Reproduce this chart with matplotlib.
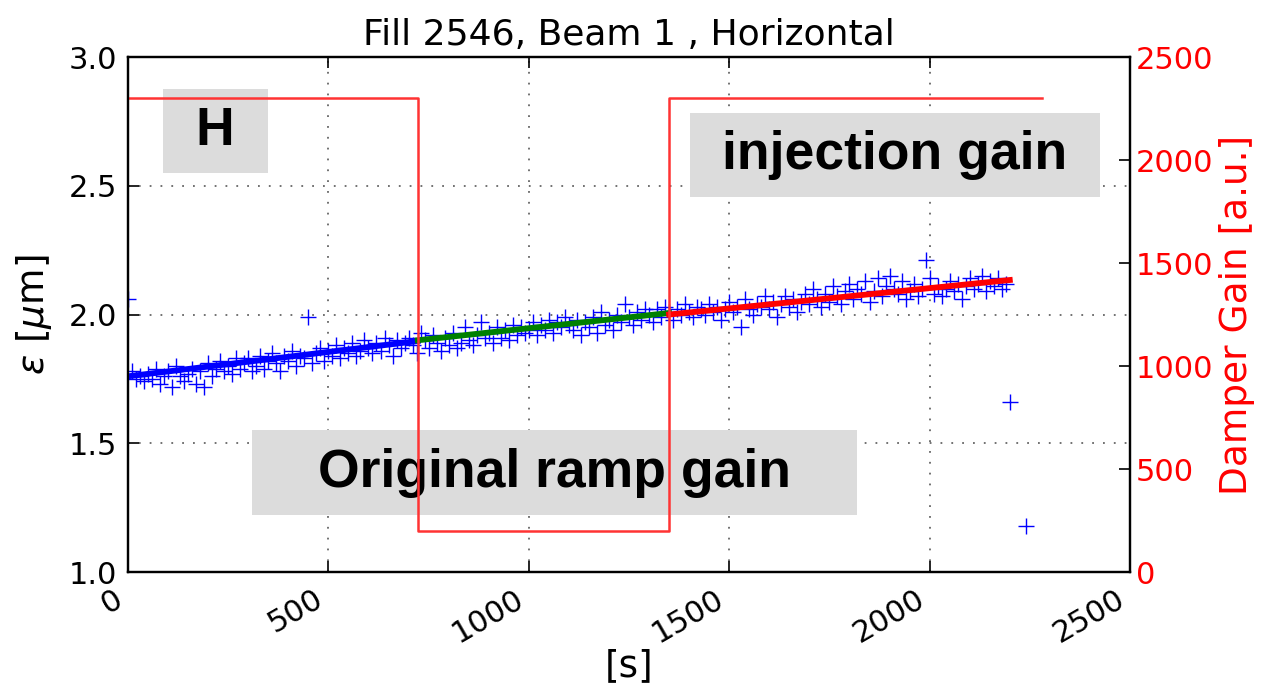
import numpy as np
import matplotlib.pyplot as plt
from matplotlib.patches import Rectangle

# emittance samples, one every 10 s
t = [10 * i for i in range(220)] + [2200, 2240]
emit = [
    2.06, 1.78, 1.75, 1.76, 1.74, 1.77, 1.75, 1.79, 1.73, 1.76,
    1.78, 1.72, 1.80, 1.76, 1.74, 1.77, 1.79, 1.73, 1.78, 1.72,
    1.81, 1.76, 1.79, 1.82, 1.78, 1.80, 1.77, 1.83, 1.79, 1.81,
    1.83, 1.78, 1.80, 1.84, 1.79, 1.82, 1.85, 1.81, 1.78, 1.84,
    1.82, 1.86, 1.80, 1.84, 1.83, 1.99, 1.81, 1.85, 1.87, 1.82,
    1.86, 1.84, 1.88, 1.83, 1.87, 1.85, 1.89, 1.84, 1.86, 1.90,
    1.87, 1.85, 1.89, 1.86, 1.91, 1.88, 1.84, 1.90, 1.87, 1.89,
    1.91, 1.88, 1.85, 1.93, 1.90, 1.87, 1.92, 1.89, 1.86, 1.91,
    1.88, 1.93, 1.87, 1.89, 1.95, 1.90, 1.88, 1.92, 1.97, 1.91,
    1.93, 1.89, 1.95, 1.91, 1.94, 1.90, 1.96, 1.92, 1.95, 1.93,
    1.94, 1.97, 1.92, 1.96, 1.94, 1.98, 1.93, 1.97, 1.95, 1.99,
    1.96, 1.94, 1.98, 1.92, 1.97, 1.95, 1.99, 1.93, 2.01, 1.96,
    1.98, 1.94, 2.00, 1.97, 2.04, 1.99, 1.96, 2.01, 1.98, 2.02,
    2.00, 1.97, 2.02, 1.99, 2.03, 2.01, 1.98, 2.02, 2.00, 2.04,
    2.01, 1.99, 2.03, 2.02, 2.00, 2.04, 2.01, 2.03, 1.98, 2.02,
    2.05, 2.01, 2.03, 1.95, 2.06, 2.02, 2.00, 2.04, 2.03, 2.07,
    2.02, 2.05, 1.99, 2.04, 2.07, 2.03, 2.06, 2.01, 2.05, 2.08,
    2.04, 2.10, 2.06, 2.03, 2.08, 2.05, 2.11, 2.07, 2.04, 2.09,
    2.12, 2.06, 2.10, 2.08, 2.13, 2.05, 2.09, 2.14, 2.07, 2.11,
    2.15, 2.10, 2.08, 2.13, 2.06, 2.09, 2.12, 2.07, 2.10, 2.21,
    2.14, 2.08, 2.11, 2.07, 2.10, 2.13, 2.09, 2.12, 2.06, 2.11,
    2.14, 2.10, 2.12, 2.15, 2.09, 2.13, 2.11, 2.14, 2.10, 2.12,
    1.66, 1.18,
]

# linear fits per gain period: (t_start, t_end, eps_start, eps_end, colour)
fits = [
    (0, 723, 1.76, 1.897, "blue"),
    (723, 1350, 1.90, 2.006, "green"),
    (1350, 2200, 2.00, 2.134, "red"),
]

# damper gain settings
gain_t = [0, 723, 723, 1350, 1350, 2280]
gain = [2300, 2300, 200, 200, 2300, 2300]

plt.rcParams["font.family"] = "DejaVu Sans"
fig = plt.figure(figsize=(12.66, 6.88), dpi=100)
ax = fig.add_axes([0.1011, 0.1686, 0.7915, 0.7485])
ax2 = ax.twinx()

ax.plot(t, emit, "+", color="blue", markersize=12, markeredgewidth=1.0, zorder=3)
for t0, t1, e0, e1, c in fits:
    ax.plot([t0, t1], [e0, e1], "-", color=c, lw=4.2, zorder=4)

ax2.plot(gain_t, gain, "-", color="#ff3333", lw=1.8)

ax.set_xlim(0, 2500)
ax.set_ylim(1.0, 3.0)
ax2.set_ylim(0, 2500)
ax.set_xticks([0, 500, 1000, 1500, 2000, 2500])
ax.set_yticks([1.0, 1.5, 2.0, 2.5, 3.0])
ax2.set_yticks([0, 500, 1000, 1500, 2000, 2500])

ax.grid(True, color="black", linestyle=(0, (1, 5)), lw=1.3, alpha=0.6)
ax.tick_params(axis="both", direction="in", length=8, width=1.2, labelsize=22,
               top=True, pad=8)
ax.tick_params(axis="x", pad=9)
ax2.tick_params(axis="y", direction="in", length=8, width=1.2, labelsize=22,
                labelcolor="red", pad=4)
for lbl in ax.get_xticklabels():
    lbl.set_rotation(30)
    lbl.set_ha("right")
for sp in ax.spines.values():
    sp.set_linewidth(1.6)
for sp in ax2.spines.values():
    sp.set_linewidth(1.6)

ax.set_title("Fill 2546, Beam 1 , Horizontal", fontsize=26, pad=9)
ax.set_xlabel("[s]", fontsize=27, labelpad=0)
ax.set_ylabel(r"$\epsilon$ [$\mu$m]", fontsize=27, labelpad=10)
ax2.set_ylabel("Damper Gain [a.u.]", fontsize=27, color="red", labelpad=4)

# grey label boxes: (x0, y0, width, height) in axes fraction, text, text centre
labels = [
    ((0.035, 0.775, 0.105, 0.163), "H", (0.087, 0.856)),
    ((0.561, 0.728, 0.409, 0.163), "injection gain", (0.765, 0.810)),
    ((0.124, 0.111, 0.604, 0.165), "Original ramp gain", (0.426, 0.193)),
]
for (x0, y0, w, h), txt, (tx, ty) in labels:
    ax.add_patch(Rectangle((x0, y0), w, h, transform=ax.transAxes,
                           facecolor="#dcdcdc", edgecolor="none", zorder=5))
    ax.text(tx, ty, txt, transform=ax.transAxes, ha="center", va="center",
            fontsize=38.5, fontweight="bold", family="Liberation Sans", zorder=6)

fig.savefig("out.png", dpi=100)
